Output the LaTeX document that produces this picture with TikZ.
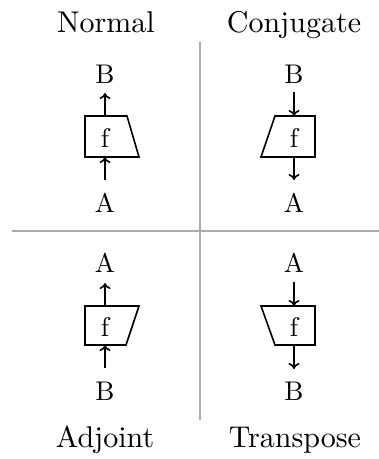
\documentclass[tikz,border=0pt]{standalone}
\usetikzlibrary{arrows.meta}
\newcommand{\bigtitle}[1]{\scalebox{3.0}{\fontsize{10}{12}\selectfont #1}}
\newcommand{\biglbl}[1]{\scalebox{2.7}{\fontsize{10}{12}\selectfont #1}}
\begin{document}
\begin{tikzpicture}[x=1pt,y=-1pt,
  title/.style={anchor=base,inner sep=0pt},
  lbl/.style={anchor=base,inner sep=0pt},
  boxline/.style={draw,line width=1.6pt,line join=miter},
  arr/.style={line width=1.6pt,-{To[length=6pt,width=11pt]}},
  divider/.style={draw=gray!65,line width=1.3pt}]
\useasboundingbox (0,0) rectangle (379,459);
% dividers
\coordinate (vt) at (200,42);
\coordinate (vb) at (200,420);
\coordinate (hl) at (12,231);
\coordinate (hr) at (379,231);
\draw[divider] (vt) -- (vb);
\draw[divider] (hl) -- (hr);
% titles
\node[title] (tN) at (106,32) {\bigtitle{Normal}};
\node[title] (tC) at (294,32) {\bigtitle{Conjugate}};
\node[title] (tA) at (105,447) {\bigtitle{Adjoint}};
\node[title] (tT) at (295,447) {\bigtitle{Transpose}};
% Normal
\node[lbl] (nB) at (105,83) {\biglbl{B}};
\node[lbl] (nA) at (105,212) {\biglbl{A}};
\node[lbl] (nf) at (105,147) {\biglbl{f}};
\draw[boxline] (85,116) -- (127,116) -- (139,157) -- (85,157) -- cycle;
\coordinate (nbt) at (105,116);
\coordinate (nbb) at (105,157);
\coordinate (nup) at (105,93);
\coordinate (nlo) at (105,180);
\draw[arr] (nbt) -- (nup);
\draw[arr] (nlo) -- (nbb);
% Conjugate
\node[lbl] (cB) at (294,83) {\biglbl{B}};
\node[lbl] (cA) at (294,212) {\biglbl{A}};
\node[lbl] (cf) at (294,147) {\biglbl{f}};
\draw[boxline] (275,116) -- (315,116) -- (315,157) -- (261,157) -- cycle;
\coordinate (cbt) at (294,116);
\coordinate (cbb) at (294,157);
\coordinate (cup) at (294,92);
\coordinate (clo) at (294,180);
\draw[arr] (cup) -- (cbt);
\draw[arr] (cbb) -- (clo);
% Adjoint
\node[lbl] (aA) at (105,272) {\biglbl{A}};
\node[lbl] (aB) at (105,400) {\biglbl{B}};
\node[lbl] (af) at (105,336) {\biglbl{f}};
\draw[boxline] (85,306) -- (139,306) -- (126,345) -- (85,345) -- cycle;
\coordinate (abt) at (105,306);
\coordinate (abb) at (105,345);
\coordinate (aup) at (105,283);
\coordinate (alo) at (105,368);
\draw[arr] (abt) -- (aup);
\draw[arr] (alo) -- (abb);
% Transpose
\node[lbl] (xA) at (294,272) {\biglbl{A}};
\node[lbl] (xB) at (294,400) {\biglbl{B}};
\node[lbl] (xf) at (294,336) {\biglbl{f}};
\draw[boxline] (261,306) -- (315,306) -- (315,345) -- (275,345) -- cycle;
\coordinate (xbt) at (294,306);
\coordinate (xbb) at (294,345);
\coordinate (xup) at (294,282);
\coordinate (xlo) at (294,369);
\draw[arr] (xup) -- (xbt);
\draw[arr] (xbb) -- (xlo);
\end{tikzpicture}
\end{document}
